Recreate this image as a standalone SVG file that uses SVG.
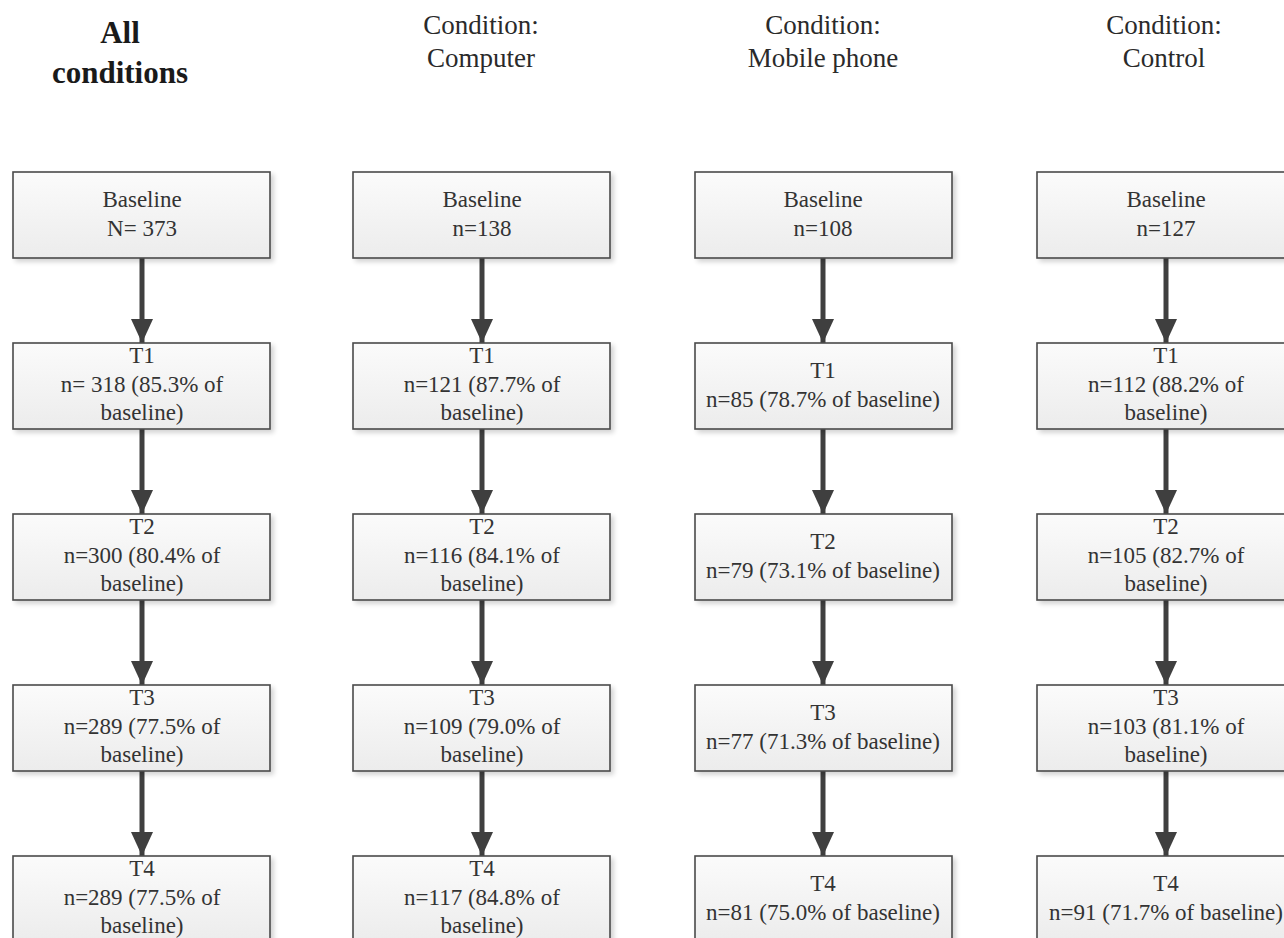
<svg xmlns="http://www.w3.org/2000/svg" width="1284" height="938" viewBox="0 0 1284 938">
<defs>
<linearGradient id="boxfill" x1="0" y1="0" x2="0" y2="1">
<stop offset="0" stop-color="#fbfbfb"/>
<stop offset="1" stop-color="#ececec"/>
</linearGradient>
<filter id="shadow" x="-5%" y="-5%" width="115%" height="125%">
<feGaussianBlur in="SourceAlpha" stdDeviation="2.5"/>
<feOffset dx="3" dy="3" result="b"/>
<feComponentTransfer><feFuncA type="linear" slope="0.18"/></feComponentTransfer>
<feMerge><feMergeNode/><feMergeNode in="SourceGraphic"/></feMerge>
</filter>
<marker id="arrow" markerWidth="24" markerHeight="22" refX="24" refY="11" orient="auto" markerUnits="userSpaceOnUse" viewBox="0 0 24 22">
<path d="M0,0 L24,11 L0,22 Z" fill="#3f3f3f"/>
</marker>
</defs>
<style>
.box{fill:url(#boxfill);stroke:#4a4a4a;stroke-width:1.6;filter:url(#shadow)}
text{font-family:'Liberation Serif','Times New Roman',Tinos,'DejaVu Serif',serif}
.t{font-size:23px;fill:#333;text-anchor:middle}
.h{font-size:27px;fill:#2a2a2a;text-anchor:middle}
.hb{font-size:31px;font-weight:bold;fill:#1a1a1a;text-anchor:middle}
.c{stroke:#3f3f3f;stroke-width:5;fill:none}
</style>
<rect width="1284" height="938" fill="#ffffff"/>

<g id="headers">
<text class="hb" x="120" y="43">All</text>
<text class="hb" x="120" y="83">conditions</text>
<text class="h" x="481" y="34">Condition:</text>
<text class="h" x="481" y="67">Computer</text>
<text class="h" x="823" y="34">Condition:</text>
<text class="h" x="823" y="67">Mobile phone</text>
<text class="h" x="1164" y="34">Condition:</text>
<text class="h" x="1164" y="67">Control</text>
</g>

<g id="connectors">
<line class="c" x1="142" y1="258" x2="142" y2="343" marker-end="url(#arrow)"/>
<line class="c" x1="142" y1="429" x2="142" y2="514" marker-end="url(#arrow)"/>
<line class="c" x1="142" y1="600" x2="142" y2="685" marker-end="url(#arrow)"/>
<line class="c" x1="142" y1="771" x2="142" y2="856" marker-end="url(#arrow)"/>
<line class="c" x1="482" y1="258" x2="482" y2="343" marker-end="url(#arrow)"/>
<line class="c" x1="482" y1="429" x2="482" y2="514" marker-end="url(#arrow)"/>
<line class="c" x1="482" y1="600" x2="482" y2="685" marker-end="url(#arrow)"/>
<line class="c" x1="482" y1="771" x2="482" y2="856" marker-end="url(#arrow)"/>
<line class="c" x1="823" y1="258" x2="823" y2="343" marker-end="url(#arrow)"/>
<line class="c" x1="823" y1="429" x2="823" y2="514" marker-end="url(#arrow)"/>
<line class="c" x1="823" y1="600" x2="823" y2="685" marker-end="url(#arrow)"/>
<line class="c" x1="823" y1="771" x2="823" y2="856" marker-end="url(#arrow)"/>
<line class="c" x1="1166" y1="258" x2="1166" y2="343" marker-end="url(#arrow)"/>
<line class="c" x1="1166" y1="429" x2="1166" y2="514" marker-end="url(#arrow)"/>
<line class="c" x1="1166" y1="600" x2="1166" y2="685" marker-end="url(#arrow)"/>
<line class="c" x1="1166" y1="771" x2="1166" y2="856" marker-end="url(#arrow)"/>
</g>

<!-- Column 1: All conditions -->
<g id="all-baseline"><rect class="box" x="13" y="172" width="257" height="86"/>
<text class="t" x="142" y="207">Baseline</text><text class="t" x="142" y="236">N= 373</text></g>
<g id="all-t1"><rect class="box" x="13" y="343" width="257" height="86"/>
<text class="t" x="142" y="363">T1</text><text class="t" x="142" y="392">n= 318 (85.3% of</text><text class="t" x="142" y="420">baseline)</text></g>
<g id="all-t2"><rect class="box" x="13" y="514" width="257" height="86"/>
<text class="t" x="142" y="534">T2</text><text class="t" x="142" y="563">n=300 (80.4% of</text><text class="t" x="142" y="591">baseline)</text></g>
<g id="all-t3"><rect class="box" x="13" y="685" width="257" height="86"/>
<text class="t" x="142" y="705">T3</text><text class="t" x="142" y="734">n=289 (77.5% of</text><text class="t" x="142" y="762">baseline)</text></g>
<g id="all-t4"><rect class="box" x="13" y="856" width="257" height="86"/>
<text class="t" x="142" y="876">T4</text><text class="t" x="142" y="905">n=289 (77.5% of</text><text class="t" x="142" y="933">baseline)</text></g>

<!-- Column 2: Computer -->
<g id="comp-baseline"><rect class="box" x="353" y="172" width="257" height="86"/>
<text class="t" x="482" y="207">Baseline</text><text class="t" x="482" y="236">n=138</text></g>
<g id="comp-t1"><rect class="box" x="353" y="343" width="257" height="86"/>
<text class="t" x="482" y="363">T1</text><text class="t" x="482" y="392">n=121 (87.7% of</text><text class="t" x="482" y="420">baseline)</text></g>
<g id="comp-t2"><rect class="box" x="353" y="514" width="257" height="86"/>
<text class="t" x="482" y="534">T2</text><text class="t" x="482" y="563">n=116 (84.1% of</text><text class="t" x="482" y="591">baseline)</text></g>
<g id="comp-t3"><rect class="box" x="353" y="685" width="257" height="86"/>
<text class="t" x="482" y="705">T3</text><text class="t" x="482" y="734">n=109 (79.0% of</text><text class="t" x="482" y="762">baseline)</text></g>
<g id="comp-t4"><rect class="box" x="353" y="856" width="257" height="86"/>
<text class="t" x="482" y="876">T4</text><text class="t" x="482" y="905">n=117 (84.8% of</text><text class="t" x="482" y="933">baseline)</text></g>

<!-- Column 3: Mobile phone -->
<g id="mob-baseline"><rect class="box" x="695" y="172" width="257" height="86"/>
<text class="t" x="823" y="207">Baseline</text><text class="t" x="823" y="236">n=108</text></g>
<g id="mob-t1"><rect class="box" x="695" y="343" width="257" height="86"/>
<text class="t" x="823" y="378">T1</text><text class="t" x="823" y="407">n=85 (78.7% of baseline)</text></g>
<g id="mob-t2"><rect class="box" x="695" y="514" width="257" height="86"/>
<text class="t" x="823" y="549">T2</text><text class="t" x="823" y="578">n=79 (73.1% of baseline)</text></g>
<g id="mob-t3"><rect class="box" x="695" y="685" width="257" height="86"/>
<text class="t" x="823" y="720">T3</text><text class="t" x="823" y="749">n=77 (71.3% of baseline)</text></g>
<g id="mob-t4"><rect class="box" x="695" y="856" width="257" height="86"/>
<text class="t" x="823" y="891">T4</text><text class="t" x="823" y="920">n=81 (75.0% of baseline)</text></g>

<!-- Column 4: Control -->
<g id="ctrl-baseline"><rect class="box" x="1037" y="172" width="257" height="86"/>
<text class="t" x="1166" y="207">Baseline</text><text class="t" x="1166" y="236">n=127</text></g>
<g id="ctrl-t1"><rect class="box" x="1037" y="343" width="257" height="86"/>
<text class="t" x="1166" y="363">T1</text><text class="t" x="1166" y="392">n=112 (88.2% of</text><text class="t" x="1166" y="420">baseline)</text></g>
<g id="ctrl-t2"><rect class="box" x="1037" y="514" width="257" height="86"/>
<text class="t" x="1166" y="534">T2</text><text class="t" x="1166" y="563">n=105 (82.7% of</text><text class="t" x="1166" y="591">baseline)</text></g>
<g id="ctrl-t3"><rect class="box" x="1037" y="685" width="257" height="86"/>
<text class="t" x="1166" y="705">T3</text><text class="t" x="1166" y="734">n=103 (81.1% of</text><text class="t" x="1166" y="762">baseline)</text></g>
<g id="ctrl-t4"><rect class="box" x="1037" y="856" width="257" height="86"/>
<text class="t" x="1166" y="891">T4</text><text class="t" x="1166" y="920">n=91 (71.7% of baseline)</text></g>
</svg>
